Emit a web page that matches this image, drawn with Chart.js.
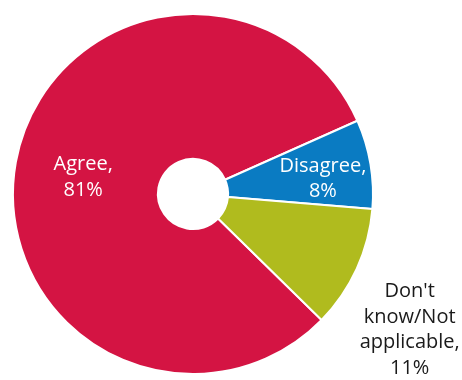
<!DOCTYPE html>
<html lang="en">
<head>
    <meta charset="UTF-8">
    <title>Agree / Disagree</title>
    <script src="https://cdn.jsdelivr.net/npm/chart.js"></script>
    <style>
        html, body {
            margin: 0;
            padding: 0;
            background: #ffffff;
        }

        #chart-container {
            width: 462px;
            height: 380px;
        }
    </style>
</head>
<body>
    <div id="chart-container">
        <canvas id="pieChart"></canvas>
    </div>

    <script>
        const categories = ['Agree', 'Disagree', "Don't know/Not applicable"];
        const shares = [81, 8, 11];
        // text drawn on each slice, one entry per line
        const sliceLabels = [
            ['Agree,', '81%'],
            ['Disagree,', '8%'],
            ["Don't", 'know/Not', 'applicable,', '11%']
        ];

        const colors = ['#D41443', '#0A7BC2', '#B0BB1E'];

        // where each label sits: fraction of outer radius along the slice middle, plus a nudge
        const labelPlace = [
            { r: 0.62, dx: 0, dy: 3, color: '#ffffff' },
            { r: 0.67, dx: 11, dy: 5, color: '#ffffff' },
            { r: 1.0, dx: 53, dy: 61, color: '#1a1a1a' }
        ];

        const sliceText = {
            id: 'sliceText',
            afterDatasetsDraw(chart) {
                const ctx = chart.ctx;
                const meta = chart.getDatasetMeta(0);
                ctx.save();
                ctx.font = '20px "Open Sans", sans-serif';
                ctx.textAlign = 'center';
                ctx.textBaseline = 'middle';
                const lineH = 25.5;
                meta.data.forEach((arc, i) => {
                    const p = arc.getProps(['x', 'y', 'startAngle', 'endAngle', 'outerRadius'], true);
                    const mid = (p.startAngle + p.endAngle) / 2;
                    const place = labelPlace[i];
                    const cx = p.x + Math.cos(mid) * p.outerRadius * place.r + place.dx;
                    const cy = p.y + Math.sin(mid) * p.outerRadius * place.r + place.dy;
                    const lines = sliceLabels[i];
                    const top = cy - (lines.length - 1) * lineH / 2;
                    ctx.fillStyle = place.color;
                    lines.forEach((t, k) => ctx.fillText(t, cx, top + k * lineH));
                });
                ctx.restore();
            }
        };

        new Chart(document.getElementById('pieChart').getContext('2d'), {
            type: 'doughnut',
            data: {
                labels: categories,
                datasets: [{
                    data: shares,
                    backgroundColor: colors,
                    borderColor: '#ffffff',
                    borderWidth: 2
                }]
            },
            options: {
                responsive: true,
                maintainAspectRatio: false,
                animation: false,
                cutout: '19.5%',
                rotation: 134.4,
                layout: {
                    padding: { left: 12, right: 88, top: 13, bottom: 5 }
                },
                plugins: {
                    legend: { display: false },
                    tooltip: { enabled: false }
                }
            },
            plugins: [sliceText]
        });
    </script>
</body>
</html>
